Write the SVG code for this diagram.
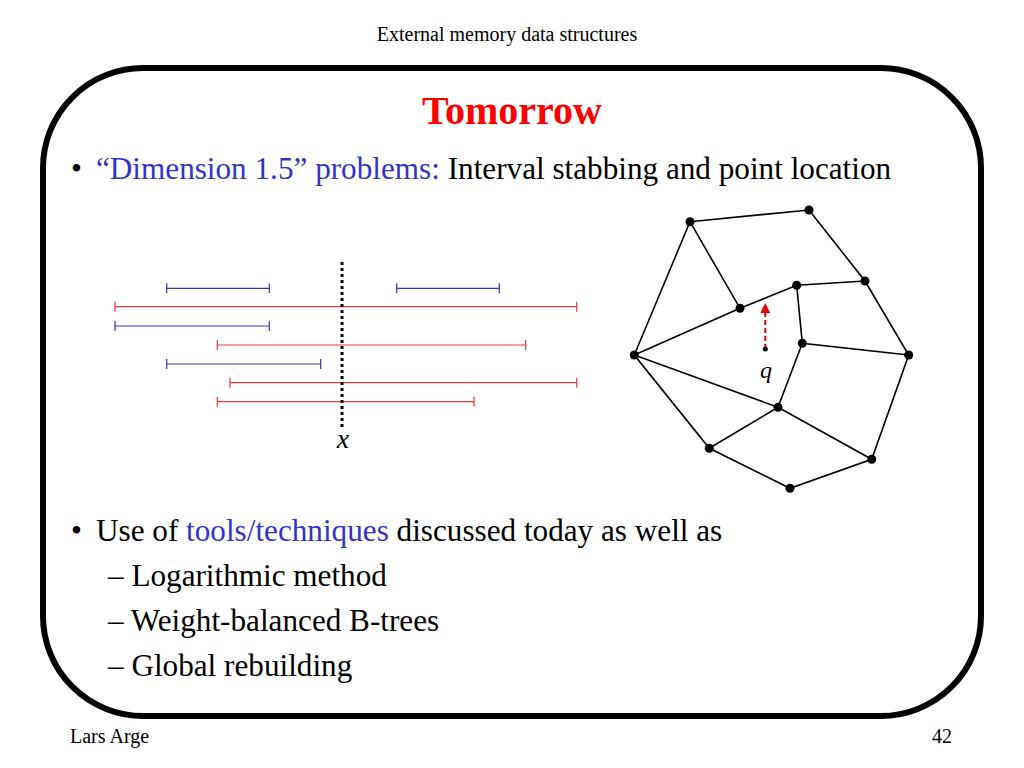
<svg xmlns="http://www.w3.org/2000/svg" width="1024" height="768" viewBox="0 0 1024 768">
<defs>
<style>
text{font-family:"Liberation Serif","Times New Roman",serif;}
.small{font-size:20px;fill:#000;}
.body{font-size:31.2px;fill:#000;}
.blue{fill:#3333CC;}
.ib{stroke:#3333CC;stroke-width:1.2;fill:none;}
.ir{stroke:#E83A3A;stroke-width:1.2;fill:none;}
.edge{stroke:#000;stroke-width:1.6;fill:none;}
.node{fill:#000;}
</style>
<marker id="ah" viewBox="0 0 10 10" refX="5" refY="5" markerWidth="5" markerHeight="5" orient="auto">
<path d="M0,0 L10,5 L0,10 z" fill="#E00000"/>
</marker>
</defs>
<rect width="1024" height="768" fill="#fff"/>
<text class="small" x="507" y="41" text-anchor="middle">External memory data structures</text>
<rect x="43" y="68" width="938" height="648" rx="100" ry="100" fill="none" stroke="#000" stroke-width="6"/>
<text x="512" y="124" text-anchor="middle" font-weight="bold" font-size="40" fill="#FF0000">Tomorrow</text>
<text class="body" x="71" y="179">•</text>
<text class="body" x="96" y="179"><tspan class="blue">“Dimension 1.5” problems:</tspan> Interval stabbing and point location</text>

<g id="intervals">
<path class="ib" d="M166.7,288.3 H269.3 M166.7,283.3 V293.3 M269.3,283.3 V293.3"/>
<path class="ib" d="M396.7,288.3 H499.3 M396.7,283.3 V293.3 M499.3,283.3 V293.3"/>
<path class="ir" d="M115,306.7 H576.7 M115,301.7 V311.7 M576.7,301.7 V311.7"/>
<path class="ib" d="M115,326 H269.3 M115,321 V331 M269.3,321 V331"/>
<path class="ir" d="M217.3,345 H525.7 M217.3,340 V350 M525.7,340 V350"/>
<path class="ib" d="M166.7,364 H320.7 M166.7,359 V369 M320.7,359 V369"/>
<path class="ir" d="M230,382.7 H576.7 M230,377.7 V387.7 M576.7,377.7 V387.7"/>
<path class="ir" d="M217.3,401.7 H474 M217.3,396.7 V406.7 M474,396.7 V406.7"/>
<line x1="342" y1="262" x2="342" y2="427" stroke="#000" stroke-width="3" stroke-dasharray="3,3"/>
<text x="343" y="448" font-size="28" font-style="italic" text-anchor="middle">x</text>
</g>

<g id="connectors">
<path class="edge" d="M690,221.7 L809,210 L865,281 L908.7,355 L871.7,459.3 L790,488.3 L709.3,448.3 L634.3,355 Z"/>
<path class="edge" d="M690,221.7 L740,308.3 L796.7,285.3 L865,281 M634.3,355 L740,308.3 M796.7,285.3 L802.3,343.3 L908.7,355 M802.3,343.3 L778,407.3 L634.3,355 M778,407.3 L709.3,448.3 M778,407.3 L871.7,459.3"/>
<line x1="765.3" y1="349" x2="765.3" y2="308" stroke="#E00000" stroke-width="2" stroke-dasharray="5,3" marker-end="url(#ah)"/>
</g>
<g id="nodes">
<circle class="node" cx="690" cy="221.7" r="4.5"/>
<circle class="node" cx="809" cy="210" r="4.5"/>
<circle class="node" cx="865" cy="281" r="4.5"/>
<circle class="node" cx="908.7" cy="355" r="4.5"/>
<circle class="node" cx="871.7" cy="459.3" r="4.5"/>
<circle class="node" cx="790" cy="488.3" r="4.5"/>
<circle class="node" cx="709.3" cy="448.3" r="4.5"/>
<circle class="node" cx="634.3" cy="355" r="4.5"/>
<circle class="node" cx="740" cy="308.3" r="4.5"/>
<circle class="node" cx="796.7" cy="285.3" r="4.5"/>
<circle class="node" cx="802.3" cy="343.3" r="4.5"/>
<circle class="node" cx="778" cy="407.3" r="4.5"/>
<circle class="node" cx="765.3" cy="349" r="2.5"/>
<text x="766" y="378" font-size="24" font-style="italic" text-anchor="middle">q</text>
</g>

<text class="body" x="71" y="541">•</text>
<text class="body" x="96" y="541">Use of <tspan class="blue">tools/techniques</tspan> discussed today as well as</text>
<text class="body" x="108" y="586">– Logarithmic method</text>
<text class="body" x="108" y="631">– Weight-balanced B-trees</text>
<text class="body" x="108" y="676">– Global rebuilding</text>
<text class="small" x="70" y="743">Lars Arge</text>
<text class="small" x="932" y="743">42</text>
</svg>
